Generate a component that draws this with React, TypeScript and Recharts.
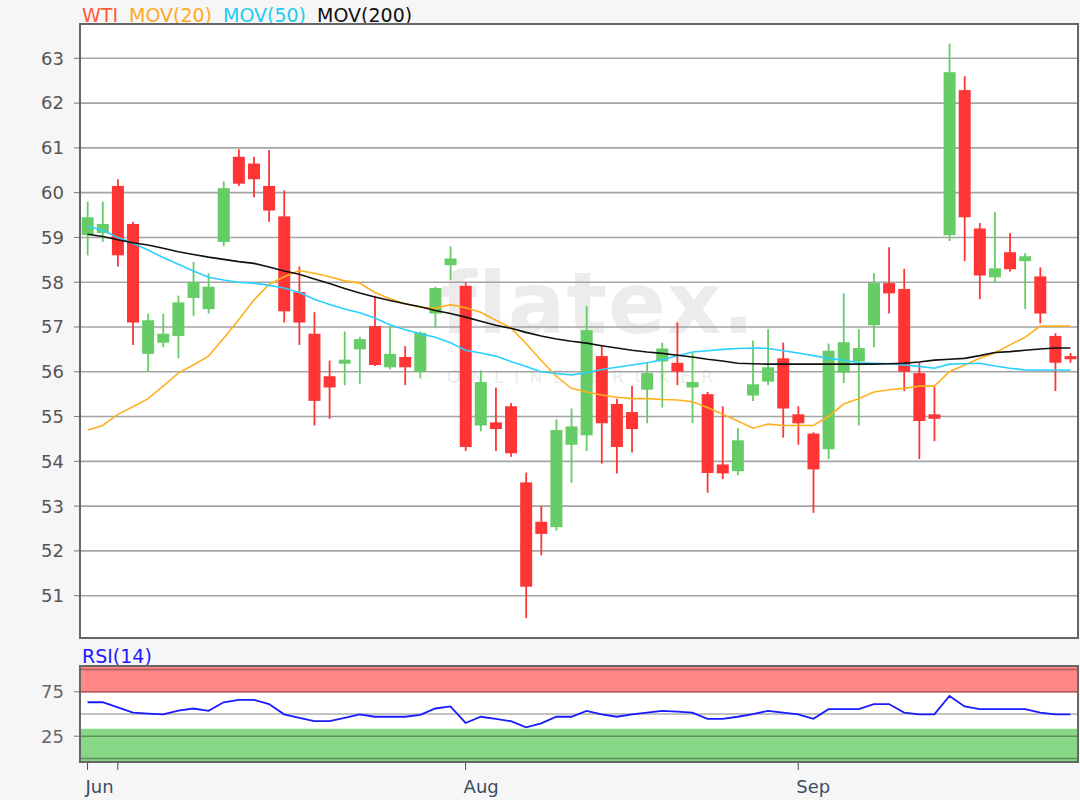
import {
  Bar,
  CartesianGrid,
  ComposedChart,
  Line,
  ReferenceArea,
  ReferenceLine,
  XAxis,
  YAxis,
} from 'recharts'

// daily candles, oldest first
const opens = [
  59.05, 59.1, 60.15, 59.3, 56.4, 56.65, 56.8, 57.65, 57.4, 58.9,
  60.8, 60.65, 60.15, 59.47, 57.78, 56.85, 55.9, 56.18, 56.5, 57.02,
  56.1, 56.33, 56.0, 57.3, 58.38, 57.92, 54.8, 54.87, 55.23, 53.53,
  52.65, 52.53, 54.37, 54.58, 56.35, 55.28, 55.1, 55.6, 56.23, 56.2,
  55.65, 55.5, 53.93, 53.78, 55.47, 55.78, 56.3, 55.05, 54.62, 54.27,
  55.98, 56.23, 57.04, 57.98, 57.85, 55.97, 55.05, 59.05, 62.29, 59.2,
  58.11, 58.67, 58.47, 58.13, 56.8, 56.35,
]
const highs = [
  59.8, 59.8, 60.3, 59.35, 57.3, 57.3, 57.7, 58.45, 58.2, 60.25,
  60.97, 60.8, 60.95, 60.05, 58.35, 57.33, 56.25, 56.9, 56.78, 57.7,
  57.02, 56.57, 56.9, 57.9, 58.8, 58.0, 56.03, 55.65, 55.3, 53.75,
  53.0, 54.94, 55.18, 57.47, 56.6, 55.4, 55.68, 56.2, 56.65, 57.1,
  56.42, 55.55, 55.23, 54.74, 56.7, 56.95, 56.65, 55.23, 54.65, 56.63,
  57.75, 56.95, 58.2, 58.78, 58.3, 56.2, 55.66, 63.33, 62.6, 59.32,
  59.56, 59.1, 58.65, 58.33, 56.86, 56.42,
]
const lows = [
  58.6, 58.9, 58.35, 56.6, 56.0, 56.55, 56.3, 57.25, 57.3, 58.8,
  60.15, 59.9, 59.35, 57.1, 56.6, 54.8, 54.95, 55.7, 55.73, 56.13,
  56.05, 55.7, 55.85, 56.97, 58.05, 54.23, 54.67, 54.23, 54.1, 50.5,
  51.9, 52.45, 53.52, 54.23, 53.95, 53.73, 54.2, 54.85, 55.2, 55.7,
  54.85, 53.3, 53.6, 53.69, 55.35, 55.7, 54.53, 54.37, 52.85, 54.05,
  55.75, 54.8, 56.55, 57.3, 55.57, 54.05, 54.45, 58.92, 58.47, 57.62,
  58.0, 58.24, 57.4, 57.08, 55.57, 56.2,
]
const closes = [
  59.45, 59.3, 58.6, 57.1, 57.15, 56.85, 57.55, 58.0, 57.9, 60.1,
  60.2, 60.3, 59.6, 57.35, 57.1, 55.35, 55.65, 56.27, 56.73, 56.15,
  56.4, 56.1, 56.87, 57.87, 58.53, 54.32, 55.77, 54.72, 54.18, 51.2,
  52.38, 54.7, 54.78, 56.93, 54.85, 54.32, 54.72, 55.97, 56.52, 56.0,
  55.77, 53.74, 53.73, 54.47, 55.72, 56.1, 55.18, 54.85, 53.82, 56.47,
  56.66, 56.53, 57.98, 57.75, 56.0, 54.9, 54.95, 62.69, 59.45, 58.15,
  58.31, 58.29, 58.58, 57.3, 56.2, 56.28,
]
const mov20 = [
  54.7, 54.8, 55.05, 55.22, 55.4, 55.68, 55.97, 56.15, 56.35, 56.75,
  57.16, 57.6, 57.95, 58.12, 58.26, 58.2, 58.12, 58.03, 57.98, 57.77,
  57.63, 57.52, 57.44, 57.42, 57.5, 57.43, 57.33, 57.15, 56.98, 56.63,
  56.25, 55.9, 55.63, 55.55, 55.48, 55.43, 55.4, 55.4, 55.38, 55.37,
  55.33, 55.2, 55.05, 54.9, 54.74, 54.83, 54.8, 54.8, 54.8, 55.0,
  55.28, 55.4, 55.55, 55.6, 55.63, 55.68, 55.68, 56.0, 56.15, 56.3,
  56.42, 56.6, 56.77, 57.02, 57.02, 57.02,
]
const mov50 = [
  59.25, 59.16, 59.0, 58.87, 58.72, 58.55, 58.4, 58.25, 58.11, 58.05,
  58.0, 57.98, 57.93, 57.87, 57.77, 57.62, 57.5, 57.4, 57.32, 57.2,
  57.05, 56.94, 56.85, 56.77, 56.65, 56.48, 56.42, 56.35, 56.23, 56.12,
  56.0, 55.96, 55.93, 55.98, 56.05, 56.1, 56.15, 56.2, 56.27, 56.36,
  56.44, 56.47, 56.5, 56.52, 56.53, 56.52, 56.47, 56.42, 56.36, 56.3,
  56.26, 56.2, 56.19, 56.18, 56.15, 56.12, 56.08, 56.17, 56.18, 56.19,
  56.13, 56.08, 56.04, 56.04, 56.04, 56.04,
]
const mov200 = [
  59.07, 59.02, 58.95, 58.88, 58.83, 58.76, 58.68, 58.62, 58.56, 58.51,
  58.46, 58.42, 58.34, 58.25, 58.18, 58.07, 57.97, 57.86, 57.76, 57.67,
  57.59, 57.52, 57.45, 57.37, 57.3, 57.22, 57.13, 57.04, 56.97, 56.88,
  56.8, 56.73, 56.68, 56.64, 56.58, 56.53, 56.48, 56.44, 56.41, 56.37,
  56.33, 56.28, 56.24, 56.19, 56.18, 56.17, 56.17, 56.17, 56.17, 56.17,
  56.17, 56.17, 56.17, 56.18, 56.19, 56.22, 56.26, 56.28, 56.3, 56.36,
  56.43, 56.45, 56.48, 56.51, 56.53, 56.53,
]
const rsi14 = [
  63.2, 63.2, 57.4, 51.6, 50.5, 49.6, 53.8, 56.2, 53.5, 63.2,
  65.9, 65.9, 61.2, 49.6, 45.7, 41.9, 41.9, 45.7, 49.6, 46.9,
  46.9, 46.9, 49.0, 56.2, 58.5, 39.9, 46.9, 44.6, 41.9, 34.9,
  39.5, 46.9, 46.9, 53.5, 49.6, 46.9, 49.6, 51.5, 53.5, 52.6,
  51.6, 44.6, 44.6, 46.9, 49.8, 53.5, 51.5, 49.6, 44.6, 55.4,
  55.4, 55.4, 61.2, 61.2, 51.6, 49.6, 49.6, 70.2, 58.5, 55.4,
  55.4, 55.4, 55.4, 51.6, 49.6, 49.6,
]

const priceTicks = [51, 52, 53, 54, 55, 56, 57, 58, 59, 60, 61, 62, 63]
const rsiGrid = [0, 25, 50, 75, 100]
const rsiTicks = [25, 75]
// candle index where each month label sits
const monthTicks = [0, 2, 25, 47]
const monthLabels = ['Jun', '', 'Aug', 'Sep']

const rows = opens.map((open, i) => ({
  i,
  open,
  high: highs[i],
  low: lows[i],
  close: closes[i],
  range: [lows[i], highs[i]],
  mov20: mov20[i],
  mov50: mov50[i],
  mov200: mov200[i],
  rsi: rsi14[i],
}))

const FONT = '"DejaVu Sans", Verdana, sans-serif'
const UP = '#66cc66'
const DOWN = '#ff3535'
const FRAME = '#666'

const Candle = (props: any) => {
  const { x, y, width, height, payload } = props
  if (x == null || y == null) return null
  const { open, close, high, low } = payload
  const color = close >= open ? UP : DOWN
  const perUnit = high === low ? 0 : height / (high - low)
  const yOf = (v: number) => y + (high - v) * perUnit
  const top = yOf(Math.max(open, close))
  const bottom = yOf(Math.min(open, close))
  const cx = x + width / 2
  return (
    <g>
      <line x1={cx} x2={cx} y1={y} y2={y + height} stroke={color} strokeWidth={1.8} />
      <rect x={x} y={top} width={width} height={Math.max(bottom - top, 1.5)} fill={color} />
    </g>
  )
}

const MonthTick = (props: any) => {
  const { x, y, payload } = props
  const k = monthTicks.indexOf(payload.value)
  return (
    <text x={x - 2} y={y} dy={21} textAnchor="start" fill="#3b4e63" fontSize={18} fontFamily={FONT}>
      {monthLabels[k] ?? ''}
    </text>
  )
}

const frame = (left: number, top: number, width: number, height: number) => ({
  position: 'absolute' as const,
  left,
  top,
  width,
  height,
  boxSizing: 'border-box' as const,
  border: `2px solid ${FRAME}`,
  pointerEvents: 'none' as const,
})

export default function App() {
  return (
    <div
      style={{
        position: 'relative',
        width: 1080,
        height: 800,
        background: '#f6f6f6',
        fontFamily: FONT,
        overflow: 'hidden',
      }}
    >
      <style>{'body{margin:0}'}</style>

      {/* plot backgrounds + watermark sit under the transparent svg */}
      <div style={{ position: 'absolute', left: 80, top: 24, width: 998, height: 614, background: '#fff' }} />
      <div style={{ position: 'absolute', left: 80, top: 666, width: 998, height: 96, background: '#fff' }} />
      <div
        style={{
          position: 'absolute',
          left: 440,
          top: 254,
          fontSize: 85,
          fontWeight: 'bold',
          color: '#ececec',
          lineHeight: '100px',
          letterSpacing: 1,
        }}
      >
        flatex.
      </div>
      <div
        style={{
          position: 'absolute',
          left: 447,
          top: 367,
          fontSize: 17,
          color: '#ececec',
          letterSpacing: 10.5,
          lineHeight: '20px',
          whiteSpace: 'pre',
        }}
      >
        ONLINE BROKER
      </div>

      {/* legend */}
      <div style={{ position: 'absolute', left: 82, top: 4, fontSize: 19, lineHeight: '22px', whiteSpace: 'pre' }}>
        <span style={{ color: '#ff5a3c' }}>WTI</span>
        <span style={{ color: '#ffaa1e', marginLeft: 11 }}>MOV(20)</span>
        <span style={{ color: '#22ccee', marginLeft: 11 }}>MOV(50)</span>
        <span style={{ color: '#111', marginLeft: 11 }}>MOV(200)</span>
      </div>
      <div style={{ position: 'absolute', left: 82, top: 645, fontSize: 19, lineHeight: '22px', color: '#1a1aff' }}>
        RSI(14)
      </div>

      <div style={{ position: 'absolute', left: 0, top: 0 }}>
        <ComposedChart
          width={1080}
          height={640}
          data={rows}
          margin={{ top: 24, right: 2, bottom: 2, left: 0 }}
          barCategoryGap="11%"
        >
          <CartesianGrid vertical={false} stroke="#a4a4a4" strokeWidth={1.6} />
          <XAxis dataKey="i" hide />
          <YAxis
            domain={[50.055, 63.766]}
            ticks={priceTicks}
            allowDataOverflow
            width={80}
            axisLine={false}
            tickSize={6}
            tickMargin={10}
            tickLine={{ stroke: '#777' }}
            tick={{ fill: '#555', fontSize: 18, fontFamily: FONT }}
          />
          <Bar dataKey="range" shape={(p: any) => <Candle {...p} />} isAnimationActive={false} />
          <Line type="linear" dataKey="mov20" stroke="#ffb01e" strokeWidth={1.6} dot={false} isAnimationActive={false} />
          <Line type="linear" dataKey="mov50" stroke="#2ad0ff" strokeWidth={1.6} dot={false} isAnimationActive={false} />
          <Line type="linear" dataKey="mov200" stroke="#111" strokeWidth={1.6} dot={false} isAnimationActive={false} />
        </ComposedChart>
      </div>

      <div style={{ position: 'absolute', left: 0, top: 640 }}>
        <ComposedChart
          width={1080}
          height={160}
          data={rows}
          margin={{ top: 26, right: 2, bottom: 2, left: 0 }}
        >
          <ReferenceArea y1={74} y2={104} fill="#ff0000" fillOpacity={0.47} stroke="none" ifOverflow="hidden" />
          <ReferenceArea y1={-4} y2={33.3} fill="#00ab00" fillOpacity={0.47} stroke="none" ifOverflow="hidden" />
          {rsiGrid.map((v) => (
            <ReferenceLine key={v} y={v} stroke="#000" strokeOpacity={0.32} strokeWidth={1.6} />
          ))}
          <XAxis
            dataKey="i"
            ticks={monthTicks}
            interval={0}
            height={36}
            axisLine={false}
            tickSize={8}
            tickLine={{ stroke: '#3b4e63' }}
            tick={(p: any) => <MonthTick {...p} />}
          />
          <YAxis
            domain={[-4, 104]}
            ticks={rsiTicks}
            allowDataOverflow
            width={80}
            axisLine={false}
            tickSize={6}
            tickMargin={10}
            tickLine={{ stroke: '#777' }}
            tick={{ fill: '#666', fontSize: 18, fontFamily: FONT }}
          />
          {/* invisible bars only give this axis the same band slots as the candles */}
          <Bar dataKey="rsi" fill="none" legendType="none" isAnimationActive={false} />
          <Line type="linear" dataKey="rsi" stroke="#1a1aff" strokeWidth={1.8} dot={false} isAnimationActive={false} />
        </ComposedChart>
      </div>

      <div style={frame(79, 23, 1000, 616)} />
      <div style={frame(79, 665, 1000, 98)} />
    </div>
  )
}
